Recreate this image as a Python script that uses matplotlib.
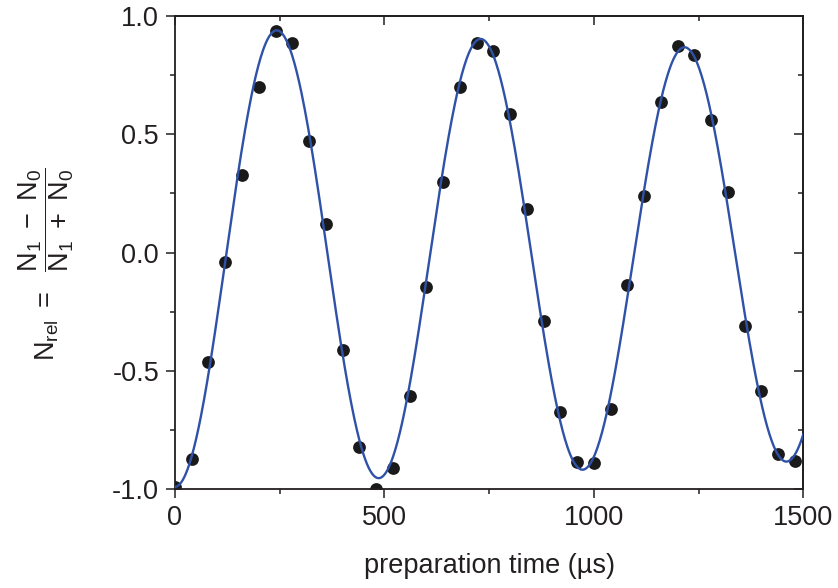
import matplotlib.pyplot as plt
import numpy as np
from matplotlib.ticker import FormatStrFormatter, MultipleLocator

plt.rcParams['font.family'] = ['Liberation Sans', 'DejaVu Sans']
plt.rcParams['mathtext.fontset'] = 'custom'
plt.rcParams['mathtext.rm'] = 'Liberation Sans'
plt.rcParams['mathtext.it'] = 'Liberation Sans:italic'
plt.rcParams['axes.unicode_minus'] = False

prep_time = [0, 40, 80, 120, 160, 200, 240, 280, 320, 360, 400, 440, 480,
             520, 560, 600, 640, 680, 720, 760, 800, 840, 880, 920, 960, 1000,
             1040, 1080, 1120, 1160, 1200, 1240, 1280, 1320, 1360, 1400, 1440, 1480]
n_rel = [-0.99, -0.873, -0.463, -0.041, 0.327, 0.699, 0.938, 0.887, 0.473, 0.120,
         -0.411, -0.821, -1.0, -0.911, -0.606, -0.144, 0.300, 0.699, 0.885, 0.852,
         0.587, 0.183, -0.289, -0.672, -0.886, -0.890, -0.661, -0.137, 0.241, 0.635,
         0.873, 0.835, 0.559, 0.256, -0.309, -0.586, -0.852, -0.880]

# damped cosine fit, parameters estimated from the drawn curve
fit_amp = 0.974
fit_tau = 12540.0    # us
fit_period = 486.7   # us
fit_offset = -0.016

ink = '#231f20'
line_blue = '#2f52a8'
fs = 19.5

t_fit = np.linspace(0, 1500, 800)
y_fit = fit_offset - fit_amp * np.exp(-t_fit / fit_tau) * np.cos(2 * np.pi * t_fit / fit_period)

fig = plt.figure(figsize=(8.38, 5.88), dpi=100)
ax = fig.add_axes([0.2088, 0.1679, 0.7498, 0.8049])

ax.plot(prep_time, n_rel, 'o', color='#1a1a1a', markersize=9.2, markeredgewidth=0, zorder=2)
ax.plot(t_fit, y_fit, '-', color=line_blue, linewidth=1.7, zorder=3)

ax.set_xlim(0, 1500)
ax.set_ylim(-1.0, 1.0)

ax.xaxis.set_major_locator(MultipleLocator(500))
ax.xaxis.set_minor_locator(MultipleLocator(250))
ax.yaxis.set_major_locator(MultipleLocator(0.5))
ax.yaxis.set_minor_locator(MultipleLocator(0.25))
ax.yaxis.set_major_formatter(FormatStrFormatter('%.1f'))

for s in ax.spines.values():
    s.set_linewidth(1.3)
    s.set_color(ink)

ax.tick_params(which='both', direction='out', width=1.1, color=ink,
               labelsize=fs, labelcolor=ink, pad=5, top=False, right=False)
ax.tick_params(which='major', length=6.5)
ax.tick_params(which='minor', length=3.3)

# inward ticks on top and right
top = ax.secondary_xaxis('top')
top.xaxis.set_major_locator(MultipleLocator(500))
top.xaxis.set_minor_locator(MultipleLocator(250))
right = ax.secondary_yaxis('right')
right.yaxis.set_major_locator(MultipleLocator(0.5))
right.yaxis.set_minor_locator(MultipleLocator(0.25))
for sec in (top, right):
    sec.tick_params(which='both', direction='in', width=1.1, color=ink,
                    labelleft=False, labelright=False, labeltop=False, labelbottom=False)
    sec.tick_params(which='major', length=6.5)
    sec.tick_params(which='minor', length=3.3)
    for s in sec.spines.values():
        s.set_linewidth(1.3)
        s.set_color(ink)

ax.set_xlabel('preparation time (µs)', fontsize=fs, color=ink, labelpad=16)
ax.set_ylabel(r'$\mathrm{N_{rel}}\ =\ \ \dfrac{\mathrm{N_1}\ -\ \mathrm{N_0}}{\mathrm{N_1}\ +\ \mathrm{N_0}}$',
              fontsize=fs, color=ink)
ax.yaxis.set_label_coords(-0.157, 0.475)

fig.savefig('out.png', dpi=100)
